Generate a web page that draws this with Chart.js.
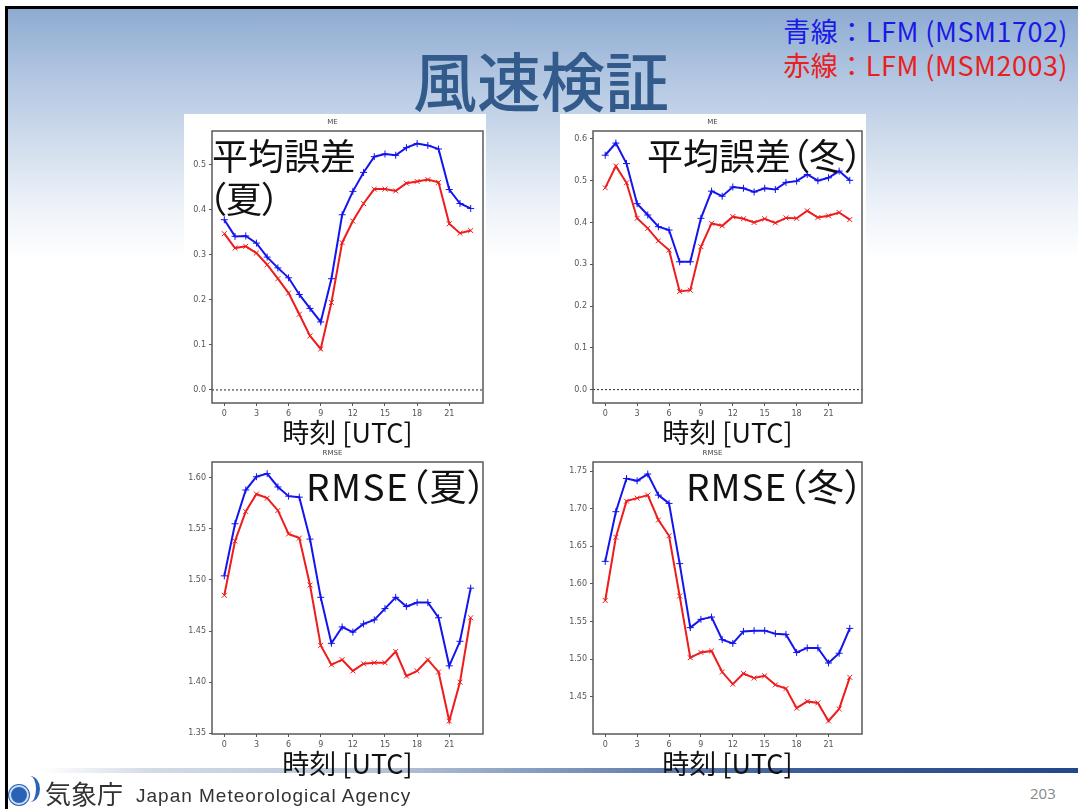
<!DOCTYPE html>
<html lang="ja">
<head>
<meta charset="utf-8">
<title>風速検証</title>
<script src="https://cdn.jsdelivr.net/npm/chart.js@4.4.1/dist/chart.umd.min.js"></script>
<style>
  html, body { margin: 0; padding: 0; background: #fff; }
  #slide { position: relative; width: 1078px; height: 809px; overflow: hidden; background: #fff; }
  #frame {
    position: absolute; left: 5px; top: 6px; right: 0; bottom: 0;
    border-left: 3px solid #000; border-top: 3px solid #000;
    background: linear-gradient(to bottom, #8eabd1 0px, #b3c7e2 70px, #d3dfee 140px, #eef3f9 200px, #fff 250px);
  }
  .txt { position: absolute; white-space: nowrap; line-height: 1; font-family: "Noto Sans CJK JP", sans-serif; }
  .note { font-size: 36px; color: #111; font-feature-settings: "palt"; }
  .paper { position: absolute; background: #fff; }
  canvas { position: absolute; }
  #footline {
    position: absolute; left: 40px; top: 768px; width: 1038px; height: 5px;
    background: linear-gradient(to right, rgba(220,228,238,0) 0px, #d3dbe6 110px, #b4c2d6 350px, #7f97bb 520px, #3a5c98 760px, #24478a 1038px);
  }
</style>
</head>
<body>
<div id="slide">
  <div id="frame"></div>

  <div class="txt" style="left:413px; top:46px; font-size:64px; font-weight:500; color:#325b8c;">風速検証</div>
  <div class="txt" style="right:10px; top:17px; font-size:27px; letter-spacing:0.5px; color:#1a1ae6;">青線：LFM (MSM1702)</div>
  <div class="txt" style="right:10px; top:51px; font-size:27px; letter-spacing:0.5px; color:#e82020;">赤線：LFM (MSM2003)</div>

  <div id="footline"></div>

  <div class="paper" style="left:184px; top:114px; width:302px; height:336px;"></div>
  <div class="paper" style="left:560px; top:114px; width:306px; height:336px;"></div>
  <div class="paper" style="left:184px; top:449px; width:302px; height:318px;"></div>
  <div class="paper" style="left:560px; top:449px; width:306px; height:318px;"></div>

  <canvas id="meSummer" width="306" height="341" style="left:182px; top:114px;"></canvas>
  <canvas id="meWinter" width="304" height="341" style="left:563px; top:114px;"></canvas>
  <canvas id="rmseSummer" width="306" height="341" style="left:182px; top:445px;"></canvas>
  <canvas id="rmseWinter" width="304" height="341" style="left:563px; top:445px;"></canvas>

  <div class="txt note" style="left:212px; top:136px;">平均誤差</div>
  <div class="txt note" style="left:208px; top:179px;">（夏）</div>
  <div class="txt note" style="left:647px; top:136px;">平均誤差（冬）</div>
  <div class="txt note" style="left:306px; top:467px; font-size:37px; letter-spacing:1.5px;">RMSE（夏）</div>
  <div class="txt note" style="left:686px; top:467px; font-size:37px; letter-spacing:1px;">RMSE（冬）</div>

  <!-- JMA footer -->
  <div style="position:absolute; left:9px; top:785px; width:16px; height:16px; border-radius:50%; background:#2a63b5; border:2px solid #cfe0f4; box-shadow:0 0 0 1px #2a63b5;"></div>
  <div style="position:absolute; left:20px; top:776px; width:16px; height:26px; border-radius:50%; border-right:4px solid #2a63b5;"></div>
  <div class="txt" style="left:45px; top:780px; font-size:26px; color:#333;">気象庁</div>
  <div class="txt" style="left:136px; top:786px; font-size:19px; letter-spacing:1px; color:#333; font-family:'Liberation Sans', Arial, sans-serif;">Japan Meteorological Agency</div>
  <div class="txt" style="left:1030px; top:786px; font-size:15px; color:#888; font-family:'Open Sans', sans-serif;">203</div>
</div>

<script>
// hours (UTC) and tick positions
const hours = [0, 1, 2, 3, 4, 5, 6, 7, 8, 9, 10, 11, 12, 13, 14, 15, 16, 17, 18, 19, 20, 21, 22, 23];
const hourTicks = [0, 3, 6, 9, 12, 15, 18, 21];

// 平均誤差 (夏)
const meSummerBlue = [0.378, 0.341, 0.342, 0.326, 0.295, 0.271, 0.249, 0.212, 0.181, 0.151, 0.247, 0.389,
                      0.441, 0.483, 0.518, 0.524, 0.521, 0.538, 0.547, 0.543, 0.535, 0.445, 0.414, 0.403];
const meSummerRed  = [0.347, 0.315, 0.319, 0.304, 0.278, 0.247, 0.215, 0.168, 0.120, 0.091, 0.194, 0.327,
                      0.375, 0.414, 0.446, 0.446, 0.442, 0.459, 0.463, 0.467, 0.461, 0.369, 0.348, 0.354];
const meSummerTicks = [0.0, 0.1, 0.2, 0.3, 0.4, 0.5];

// 平均誤差 (冬)
const meWinterBlue = [0.561, 0.590, 0.541, 0.445, 0.418, 0.390, 0.382, 0.306, 0.306, 0.410, 0.475, 0.463,
                      0.485, 0.482, 0.473, 0.482, 0.479, 0.496, 0.499, 0.515, 0.500, 0.507, 0.523, 0.501];
const meWinterRed  = [0.483, 0.535, 0.495, 0.410, 0.386, 0.356, 0.334, 0.235, 0.238, 0.342, 0.398, 0.392,
                      0.414, 0.409, 0.400, 0.409, 0.399, 0.411, 0.410, 0.428, 0.412, 0.416, 0.424, 0.407];
const meWinterTicks = [0.0, 0.1, 0.2, 0.3, 0.4, 0.5, 0.6];

// RMSE (夏)
const rmseSummerBlue = [1.504, 1.555, 1.588, 1.601, 1.604, 1.591, 1.582, 1.581, 1.540, 1.483, 1.438, 1.454,
                        1.449, 1.457, 1.461, 1.472, 1.483, 1.474, 1.478, 1.478, 1.463, 1.416, 1.440, 1.492];
const rmseSummerRed  = [1.485, 1.538, 1.567, 1.584, 1.580, 1.568, 1.545, 1.541, 1.495, 1.436, 1.417, 1.422,
                        1.411, 1.418, 1.419, 1.419, 1.430, 1.406, 1.411, 1.422, 1.410, 1.362, 1.400, 1.463];
const rmseSummerTicks = [1.35, 1.40, 1.45, 1.50, 1.55, 1.60];

// RMSE (冬)
const rmseWinterBlue = [1.630, 1.696, 1.740, 1.737, 1.746, 1.718, 1.707, 1.627, 1.542, 1.553, 1.556, 1.526,
                        1.521, 1.537, 1.538, 1.538, 1.534, 1.533, 1.509, 1.515, 1.515, 1.495, 1.508, 1.541];
const rmseWinterRed  = [1.578, 1.662, 1.710, 1.714, 1.718, 1.685, 1.664, 1.584, 1.502, 1.509, 1.511, 1.483,
                        1.467, 1.481, 1.475, 1.478, 1.466, 1.461, 1.435, 1.444, 1.442, 1.418, 1.434, 1.476];
const rmseWinterTicks = [1.45, 1.50, 1.55, 1.60, 1.65, 1.70, 1.75];

const X_MIN = -1.15, X_MAX = 24.15;
const BLUE = '#1414ee';
const RED = '#ee1c1c';
const TICK_FONT = { family: 'DejaVu Sans', size: 8 };

// box round the plot, like matplotlib spines
const framePlugin = {
    id: 'frame',
    afterDraw(chart) {
        const { ctx, chartArea: a } = chart;
        ctx.save();
        ctx.strokeStyle = '#5a5a5a';
        ctx.lineWidth = 1.5;
        ctx.strokeRect(a.left, a.top, a.right - a.left, a.bottom - a.top);
        ctx.restore();
    }
};

function series(values, color, marker) {
    return {
        data: hours.map((h, i) => ({ x: h, y: values[i] })),
        borderColor: color,
        backgroundColor: color,
        borderWidth: 2,
        pointStyle: marker,
        pointRadius: 3.5,
        pointBorderWidth: 1,
        tension: 0
    };
}

function makeChart(id, cfg) {
    const datasets = [];
    if (cfg.zeroLine) {
        datasets.push({
            data: [{ x: X_MIN, y: 0 }, { x: X_MAX, y: 0 }],
            borderColor: '#222',
            borderWidth: 1,
            borderDash: [2, 2],
            pointRadius: 0
        });
    }
    datasets.push(series(cfg.blue, BLUE, 'cross'));
    datasets.push(series(cfg.red, RED, 'crossRot'));

    return new Chart(document.getElementById(id), {
        type: 'line',
        data: { datasets },
        options: {
            responsive: false,
            animation: false,
            layout: { padding: { left: 0, right: 5, top: 0, bottom: 0 } },
            plugins: {
                legend: { display: false },
                tooltip: { enabled: false },
                title: {
                    display: true,
                    text: cfg.title,
                    color: '#444',
                    font: { family: 'DejaVu Sans', size: 7, weight: 'normal' },
                    padding: { top: 4, bottom: 4.6 }
                }
            },
            scales: {
                x: {
                    type: 'linear',
                    min: X_MIN,
                    max: X_MAX,
                    afterFit: s => { s.height = 52; },
                    afterBuildTicks: s => { s.ticks = hourTicks.map(v => ({ value: v })); },
                    ticks: { font: TICK_FONT, color: '#555', padding: 3, autoSkip: false, maxRotation: 0, callback: v => String(v) },
                    grid: { drawOnChartArea: false, tickLength: 3, color: '#555' },
                    border: { display: false },
                    title: {
                        display: true,
                        text: '時刻 [UTC]',
                        color: '#111',
                        font: { family: 'Noto Sans CJK JP', size: 27 },
                        padding: { top: 0, bottom: 6 }
                    }
                },
                y: {
                    min: cfg.min,
                    max: cfg.max,
                    afterFit: s => { s.width = 30; },
                    afterBuildTicks: s => { s.ticks = cfg.ticks.map(v => ({ value: v })); },
                    ticks: { font: TICK_FONT, color: '#555', padding: 3, autoSkip: false, callback: v => v.toFixed(cfg.decimals) },
                    grid: { drawOnChartArea: false, tickLength: 3, color: '#555' },
                    border: { display: false }
                }
            }
        },
        plugins: [framePlugin]
    });
}

makeChart('meSummer', { title: 'ME', blue: meSummerBlue, red: meSummerRed, ticks: meSummerTicks, min: -0.029, max: 0.575, decimals: 1, zeroLine: true });
makeChart('meWinter', { title: 'ME', blue: meWinterBlue, red: meWinterRed, ticks: meWinterTicks, min: -0.032, max: 0.619, decimals: 1, zeroLine: true });
makeChart('rmseSummer', { title: 'RMSE', blue: rmseSummerBlue, red: rmseSummerRed, ticks: rmseSummerTicks, min: 1.3493, max: 1.6154, decimals: 2 });
makeChart('rmseWinter', { title: 'RMSE', blue: rmseWinterBlue, red: rmseWinterRed, ticks: rmseWinterTicks, min: 1.4007, max: 1.762, decimals: 2 });
</script>
</body>
</html>
